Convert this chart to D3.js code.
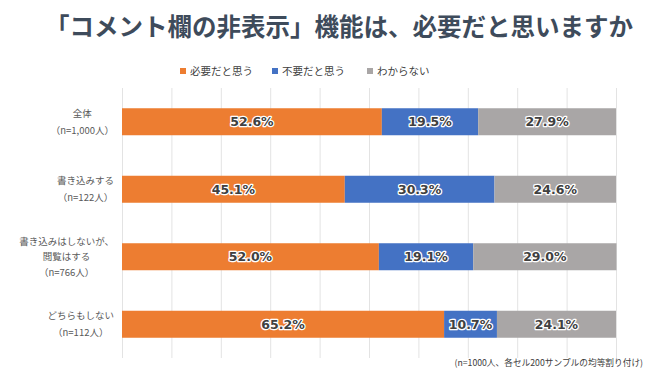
<!DOCTYPE html>
<html>
<head>
<meta charset="utf-8">
<script src="https://cdn.jsdelivr.net/npm/d3@7"></script>
<style>
  body { margin: 0; background: #fff; }
  svg { display: block; }
</style>
</head>
<body>
<script>
// data
var categories = [
  ['全体', '（n=1,000人）'],
  ['書き込みする', '（n=122人）'],
  ['書き込みはしないが、', '閲覧はする', '（n=766人）'],
  ['どちらもしない', '（n=112人）']
];
var seriesNames = ['必要だと思う', '不要だと思う', 'わからない'];
var needed = [52.6, 45.1, 52.0, 65.2];
var notNeeded = [19.5, 30.3, 19.1, 10.7];
var dontKnow = [27.9, 24.6, 29.0, 24.1];
var colors = ['#ED7D31', '#4472C4', '#A9A6A6'];

var width = 660, height = 371;
var margin = {top: 88, left: 122, right: 44, bottom: 13};

var svg = d3.select('body').append('svg').attr('width', width).attr('height', height);

// title
svg.append('text')
   .attr('x', 339).attr('y', 36)
   .attr('text-anchor', 'middle')
   .attr('font-family', '"Noto Sans CJK JP", sans-serif')
   .attr('font-weight', 'bold')
   .attr('font-size', 24.5)
   .attr('fill', '#3E4B5B')
   .text('「コメント欄の非表示」機能は、必要だと思いますか');

// legend
var legendX = [180, 272, 367];
var legend = svg.selectAll('.legend').data(seriesNames).enter().append('g')
   .attr('transform', function (d, i) { return 'translate(' + legendX[i] + ',71)'; });
legend.append('rect').attr('x', 0).attr('y', -3).attr('width', 6).attr('height', 6)
   .attr('fill', function (d, i) { return colors[i]; });
legend.append('text').attr('x', 10).attr('y', 3.8)
   .attr('font-family', '"Noto Sans CJK JP", sans-serif')
   .attr('font-size', 10.5).attr('fill', '#404040')
   .text(function (d) { return d; });

var x = d3.scaleLinear().domain([0, 100]).range([margin.left, width - margin.right]);
var y = d3.scaleBand().domain(d3.range(categories.length))
   .range([margin.top, height - margin.bottom]).paddingInner(0.6).paddingOuter(0.3);

// gridlines
svg.append('g')
   .attr('transform', 'translate(0,' + margin.top + ')')
   .call(d3.axisTop(x).tickValues(d3.range(0, 101, 10)).tickSize(-(height - margin.bottom - margin.top)).tickFormat(''))
   .call(function (g) { g.select('.domain').remove(); })
   .selectAll('line').attr('stroke', '#E3E3E3');

// stacked segments
var rows = categories.map(function (c, i) {
  return {i: i, vals: [needed[i], notNeeded[i], dontKnow[i]]};
});
var segs = [];
rows.forEach(function (r) {
  var acc = 0;
  r.vals.forEach(function (v, k) {
    segs.push({row: r.i, k: k, x0: acc, x1: acc + v, v: v});
    acc += v;
  });
});

svg.selectAll('rect.seg').data(segs).enter().append('rect')
   .attr('class', 'seg')
   .attr('x', function (d) { return x(d.x0); })
   .attr('y', function (d) { return y(d.row); })
   .attr('width', function (d) { return x(d.x1) - x(d.x0); })
   .attr('height', y.bandwidth())
   .attr('fill', function (d) { return colors[d.k]; });

svg.selectAll('text.val').data(segs).enter().append('text')
   .attr('class', 'val')
   .attr('x', function (d) { return (x(d.x0) + x(d.x1)) / 2; })
   .attr('y', function (d) { return y(d.row) + y.bandwidth() / 2 + 4.5; })
   .attr('text-anchor', 'middle')
   .attr('font-family', '"DejaVu Sans", sans-serif')
   .attr('font-weight', 'bold')
   .attr('font-size', 12.5)
   .attr('fill', '#404040')
   .attr('stroke', '#fff').attr('stroke-width', 2.5).attr('paint-order', 'stroke')
   .attr('stroke-linejoin', 'round')
   .text(function (d) { return d.v.toFixed(1) + '%'; });

// category labels: block right aligned, lines centred inside the block
categories.forEach(function (lines, i) {
  var g = svg.append('g');
  var lh = lines.length > 2 ? 15.5 : 17;
  var cy = y(i) + y.bandwidth() / 2;
  var t = g.selectAll('text').data(lines).enter().append('text')
     .attr('y', function (d, j) { return cy + (j - (lines.length - 1) / 2) * lh + 3.5; })
     .attr('text-anchor', 'middle')
     .attr('font-family', '"Noto Sans CJK JP", sans-serif')
     .attr('font-size', 9.5)
     .attr('fill', '#595959')
     .text(function (d) { return d; });
  var w = 0;
  t.each(function () { w = Math.max(w, this.getComputedTextLength()); });
  t.attr('x', 114 - w / 2);
});

// footnote
svg.append('text')
   .attr('x', 643).attr('y', 366)
   .attr('text-anchor', 'end')
   .attr('font-family', '"Noto Sans CJK JP", sans-serif')
   .attr('font-size', 8.7)
   .attr('fill', '#404040')
   .text('(n=1000人、各セル200サンプルの均等割り付け)');
</script>
</body>
</html>
